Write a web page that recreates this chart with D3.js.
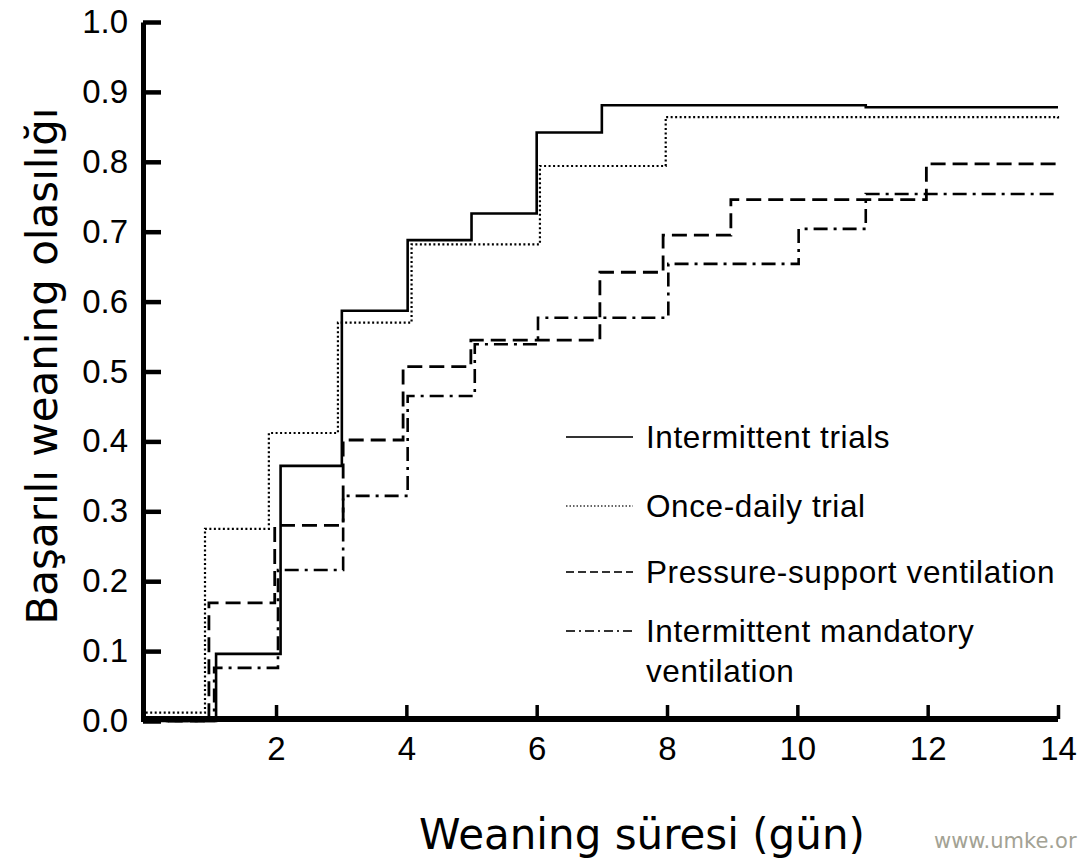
<!DOCTYPE html>
<html>
<head>
<meta charset="utf-8">
<script src="https://cdn.jsdelivr.net/npm/d3@7"></script>
<style>
html,body{margin:0;padding:0;background:#fff;}
svg{display:block;}
</style>
</head>
<body>
<svg id="chart" width="1082" height="866"></svg>
<script>
// ---- data ----
const seriesNames = ["Intermittent trials", "Once-daily trial", "Pressure-support ventilation", "Intermittent mandatory ventilation"];

const trialsDays   = [0, 1.08, 2.07, 3.01, 4.02, 5.0, 6.0, 7.0, 11.05, 14];
const trialsProb   = [0, 0.096, 0.365, 0.587, 0.688, 0.726, 0.842, 0.881, 0.878, 0.878];

const dailyDays    = [0, 0.91, 1.89, 2.95, 4.08, 6.05, 7.98, 14];
const dailyProb    = [0.012, 0.275, 0.412, 0.570, 0.682, 0.794, 0.864, 0.862];

const psvDays      = [0, 0.97, 1.98, 3.03, 3.95, 4.99, 6.97, 7.94, 8.98, 11.98, 14];
const psvProb      = [0, 0.169, 0.280, 0.402, 0.507, 0.545, 0.642, 0.695, 0.746, 0.797, 0.797];

const imvDays      = [0, 1.05, 2.03, 3.03, 4.02, 5.05, 6.02, 8.02, 10.02, 11.05, 14];
const imvProb      = [0, 0.076, 0.216, 0.322, 0.465, 0.539, 0.577, 0.654, 0.704, 0.754, 0.754];

const xTicks = [2, 4, 6, 8, 10, 12, 14];
const yTicks = [0, 0.1, 0.2, 0.3, 0.4, 0.5, 0.6, 0.7, 0.8, 0.9, 1.0];

const yTitle = "Başarılı weaning olasılığı";
const xTitle = "Weaning süresi (gün)";
const watermark = "www.umke.or";

// ---- drawing ----
const svg = d3.select("#chart");
const x = d3.scaleLinear().domain([0, 14]).range([145.7, 1058]);
const y = d3.scaleLinear().domain([0, 1]).range([721, 22]);

const styles = [
  {dash: null, width: 2.6},
  {dash: "2,2.5", width: 2.2},
  {dash: "15,7", width: 2.8},
  {dash: "14,6,3,6", width: 2.6}
];
const data = [
  d3.zip(trialsDays, trialsProb),
  d3.zip(dailyDays, dailyProb),
  d3.zip(psvDays, psvProb),
  d3.zip(imvDays, imvProb)
];

const line = d3.line().x(d => x(d[0])).y(d => y(d[1])).curve(d3.curveStepAfter);

svg.append("g").selectAll("path").data(data).join("path")
  .attr("d", line)
  .attr("fill", "none")
  .attr("stroke", "#000")
  .attr("stroke-width", (d, i) => styles[i].width)
  .attr("stroke-dasharray", (d, i) => styles[i].dash);

// axes
const yAxis = d3.axisLeft(y).tickValues(yTicks).tickFormat(d3.format(".1f"))
  .tickSizeInner(-18).tickSizeOuter(0).tickPadding(15);
const gy = svg.append("g").attr("transform", "translate(143,0)").call(yAxis);
gy.select(".domain").attr("stroke", "#000").attr("stroke-width", 5);
gy.selectAll(".tick line").attr("stroke", "#000").attr("stroke-width", 4.5);
gy.selectAll(".tick text").attr("font-family", "Liberation Sans, Arial, sans-serif")
  .attr("font-size", 33).attr("fill", "#000");

const xAxis = d3.axisBottom(x).tickValues(xTicks).tickFormat(d3.format("d"))
  .tickSizeInner(-14).tickSizeOuter(0).tickPadding(18);
const gx = svg.append("g").attr("transform", "translate(0,719)").call(xAxis);
gx.select(".domain").attr("stroke", "#000").attr("stroke-width", 6).attr("d", `M141,0H${x(14)}`);
gx.selectAll(".tick line").attr("stroke", "#000").attr("stroke-width", 3.5);
gx.selectAll(".tick text").attr("font-family", "Liberation Sans, Arial, sans-serif")
  .attr("font-size", 33).attr("fill", "#000");

// titles
svg.append("text")
  .attr("transform", "translate(57,366) rotate(-90)")
  .attr("text-anchor", "middle")
  .attr("font-family", "DejaVu Sans, Verdana, sans-serif")
  .attr("font-size", 42)
  .attr("fill", "#000")
  .text(yTitle);

svg.append("text")
  .attr("x", 642).attr("y", 849)
  .attr("text-anchor", "middle")
  .attr("font-family", "DejaVu Sans, Verdana, sans-serif")
  .attr("font-size", 42)
  .attr("fill", "#000")
  .text(xTitle);

svg.append("text")
  .attr("x", 934).attr("y", 848)
  .attr("font-family", "DejaVu Sans, Verdana, sans-serif")
  .attr("font-size", 21)
  .attr("fill", "#a3a294")
  .text(watermark);

// legend
const legendY = [437, 506, 572, 631];
const lg = svg.append("g");
seriesNames.forEach((name, i) => {
  lg.append("line")
    .attr("x1", 566).attr("x2", 633)
    .attr("y1", legendY[i]).attr("y2", legendY[i])
    .attr("stroke", "#333")
    .attr("stroke-width", i === 1 ? 1.6 : 2.2)
    .attr("stroke-dasharray", i === 0 ? null : (i === 1 ? "1.5,2" : (i === 2 ? "8,4" : "9,4,2,4")));
  const t = lg.append("text")
    .attr("x", 646).attr("y", legendY[i] + 11)
    .attr("font-family", "Liberation Sans, Arial, sans-serif")
    .attr("font-size", 31.5)
    .attr("letter-spacing", 0.6)
    .attr("fill", "#000");
  if (i === 3) {
    t.append("tspan").attr("x", 646).text("Intermittent mandatory");
    t.append("tspan").attr("x", 646).attr("dy", 40).text("ventilation");
  } else {
    t.text(name);
  }
});
</script>
</body>
</html>
